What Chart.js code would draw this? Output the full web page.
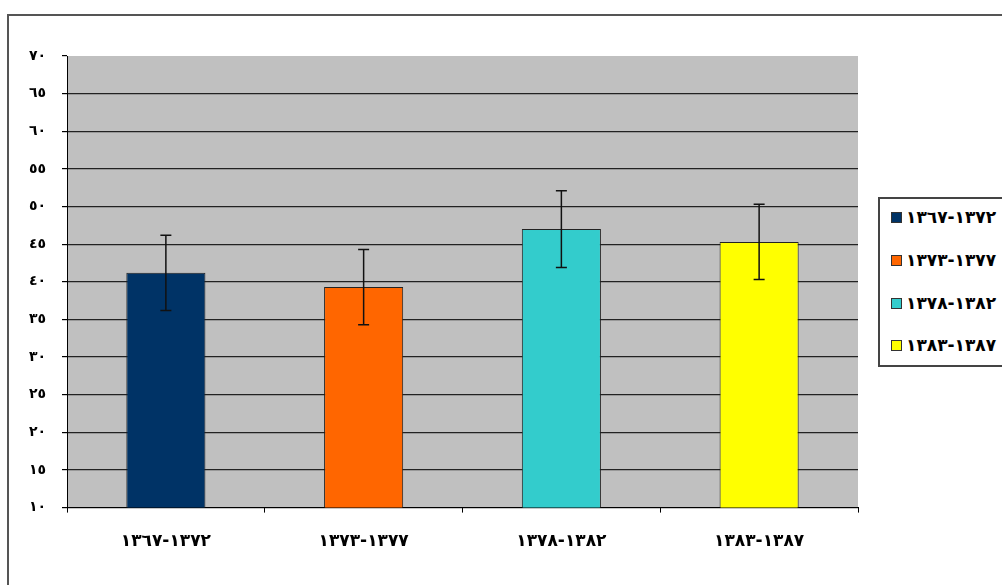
<!DOCTYPE html>
<html>
<head>
<meta charset="utf-8">
<script src="https://cdn.jsdelivr.net/npm/chart.js@4/dist/chart.umd.min.js"></script>
<style>
  body { margin: 0; overflow: hidden; background: #fff; }
  #frame { position: absolute; left: 7px; top: 14px; width: 1100px; height: 640px; border: 2px solid #555; }
  #chart { position: absolute; left: 0; top: 0; }
  #legend { position: absolute; left: 878px; top: 197px; width: 200px; height: 166px; border: 2px solid #444;
            background: #fff; font: bold 17px "DejaVu Sans", sans-serif; }
  #legend .item { position: absolute; left: 11px; height: 18px; line-height: 18px; white-space: nowrap; }
  #legend .sw { display: inline-block; width: 9px; height: 9px; border: 1px solid #333; margin-right: 4px; vertical-align: 0px; }
</style>
</head>
<body>
<div id="frame"><canvas id="chart" width="1100" height="640"></canvas></div>
<div id="legend"></div>
<script>
// periods (Hijri Shamsi years), shown on the x axis and in the legend
var categories = ['١٣٦٧-١٣٧٢', '١٣٧٣-١٣٧٧', '١٣٧٨-١٣٨٢', '١٣٨٣-١٣٨٧'];
var means = [41.2, 39.3, 47.0, 45.3];
var errors = [5.0, 5.0, 5.1, 5.0];
var colors = ['#003366', '#ff6600', '#33cccc', '#ffff00'];
var yTickLabels = ['١٠', '١٥', '٢٠', '٢٥', '٣٠', '٣٥', '٤٠', '٤٥', '٥٠', '٥٥', '٦٠', '٦٥', '٧٠'];

// keep the two years in reading order inside the LTR canvas
function ltr(s) { return s.replace('-', '\u200E-\u200E'); }

var plotBg = {
  id: 'plotBg',
  beforeDraw: function (chart) {
    var a = chart.chartArea, ctx = chart.ctx;
    ctx.save();
    ctx.fillStyle = '#c0c0c0';
    ctx.fillRect(a.left, a.top, a.right - a.left, a.bottom - a.top);
    ctx.restore();
  }
};

var errorBars = {
  id: 'errorBars',
  afterDatasetsDraw: function (chart) {
    var ctx = chart.ctx, y = chart.scales.y;
    ctx.save();
    ctx.strokeStyle = '#111';
    ctx.lineWidth = 1.5;
    chart.getDatasetMeta(0).data.forEach(function (bar, i) {
      var top = y.getPixelForValue(means[i] + errors[i]);
      var bot = y.getPixelForValue(means[i] - errors[i]);
      ctx.beginPath();
      ctx.moveTo(bar.x, top); ctx.lineTo(bar.x, bot);
      ctx.moveTo(bar.x - 5.5, top); ctx.lineTo(bar.x + 5.5, top);
      ctx.moveTo(bar.x - 5.5, bot); ctx.lineTo(bar.x + 5.5, bot);
      ctx.stroke();
    });
    ctx.restore();
  }
};

var ctx = document.getElementById('chart').getContext('2d');
var chart = new Chart(ctx, {
  type: 'bar',
  data: {
    labels: categories.map(ltr),
    datasets: [{
      data: means,
      backgroundColor: colors,
      borderColor: '#222',
      borderWidth: 1,
      barPercentage: 0.4,
      categoryPercentage: 1.0
    }]
  },
  options: {
    responsive: false,
    animation: false,
    devicePixelRatio: 1,
    layout: { padding: { left: 13, top: 40, right: 251, bottom: 85 } },
    plugins: { legend: { display: false }, tooltip: { enabled: false } },
    scales: {
      x: {
        grid: { drawOnChartArea: false, offset: true, tickLength: 5, color: '#000' },
        border: { color: '#000', width: 1 },
        ticks: { color: '#000', padding: 19, font: { family: 'DejaVu Sans', size: 17, weight: 'bold' } }
      },
      y: {
        min: 10,
        max: 70,
        afterFit: function (scale) { scale.width = 45; },
        grid: {
          tickLength: 5,
          tickColor: '#000',
          lineWidth: 1.2,
          color: function (c) { return c.tick && c.tick.value === 70 ? 'rgba(0,0,0,0)' : '#222'; }
        },
        border: { color: '#000', width: 1 },
        ticks: {
          stepSize: 5,
          padding: 16,
          color: '#000',
          font: { family: 'DejaVu Sans', size: 14, weight: 'bold' },
          callback: function (v, i) { return yTickLabels[i]; }
        }
      }
    }
  },
  plugins: [plotBg, errorBars]
});

// legend box, partly cut by the right edge like the original
var legend = document.getElementById('legend');
var rowTops = [9, 52, 95, 137];
categories.forEach(function (c, i) {
  var d = document.createElement('div');
  d.className = 'item';
  d.style.top = rowTops[i] + 'px';
  d.innerHTML = '<span class="sw" style="background:' + colors[i] + '"></span>' + ltr(c);
  legend.appendChild(d);
});
</script>
</body>
</html>
